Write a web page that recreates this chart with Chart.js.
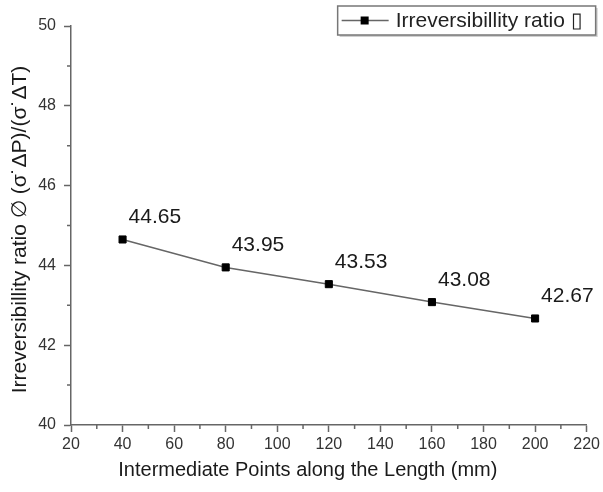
<!DOCTYPE html>
<html>
<head>
<meta charset="utf-8">
<script src="https://cdn.jsdelivr.net/npm/chart.js@4.4.0/dist/chart.umd.min.js"></script>
<style>
    html, body { margin: 0; padding: 0; background: #fff; }
    #wrap { width: 603px; height: 492px; position: relative; }
</style>
</head>
<body>
<div id="wrap"><canvas id="irrChart"></canvas></div>
<script>
// Data
const positions = [40, 80, 120, 160, 200];
const ratios = [44.65, 43.95, 43.53, 43.08, 42.67];
const xTicks = [20, 40, 60, 80, 100, 120, 140, 160, 180, 200, 220];
const yTicks = [40, 42, 44, 46, 48, 50];
const seriesLabel = 'Irreversibillity ratio';
const xTitle = 'Intermediate Points along the Length (mm)';
const yTitle = 'Irreversibillity ratio \u2205 (\u03c3\u02d9\u0394P)/(\u03c3\u02d9\u0394T)';

const FONT = "'Liberation Sans', Arial, sans-serif";
Chart.defaults.font.family = FONT;

// minor ticks halfway between the major ones
function midpoints(arr) {
    const out = [];
    for (let i = 0; i < arr.length - 1; i++) out.push((arr[i] + arr[i + 1]) / 2);
    return out;
}

const extrasPlugin = {
    id: 'extras',
    afterDraw(chart) {
        const ctx = chart.ctx;
        const xs = chart.scales.x;
        const ys = chart.scales.y;
        const area = chart.chartArea;

        ctx.save();
        // minor ticks
        ctx.strokeStyle = '#666';
        ctx.lineWidth = 1.5;
        ctx.beginPath();
        midpoints(xTicks).forEach(v => {
            const px = xs.getPixelForValue(v);
            ctx.moveTo(px, area.bottom);
            ctx.lineTo(px, area.bottom + 4);
        });
        midpoints(yTicks).forEach(v => {
            const py = ys.getPixelForValue(v);
            ctx.moveTo(area.left, py);
            ctx.lineTo(area.left - 4, py);
        });
        ctx.stroke();

        // value labels
        const meta = chart.getDatasetMeta(0);
        ctx.fillStyle = '#1a1a1a';
        ctx.font = '21px ' + FONT;
        ctx.textAlign = 'left';
        ctx.textBaseline = 'alphabetic';
        meta.data.forEach((pt, i) => {
            ctx.fillText(ratios[i].toFixed(2), pt.x + 6, pt.y - 16);
        });

        // x axis title (sits a little left of the plot centre in the original)
        ctx.fillStyle = '#1a1a1a';
        ctx.font = '20px ' + FONT;
        ctx.textAlign = 'center';
        ctx.textBaseline = 'middle';
        ctx.fillText(xTitle, (area.left + area.right) / 2 - 21, 470);

        // y axis title
        ctx.save();
        ctx.translate(20, (area.top + area.bottom) / 2 + 4);
        ctx.rotate(-Math.PI / 2);
        ctx.font = '21px ' + FONT;
        ctx.fillText(yTitle, 0, 0);
        ctx.restore();

        // legend box
        const lx = area.right - 249, ly = area.top - 20, lw = 258, lh = 29;
        ctx.fillStyle = '#cfcfcf';
        ctx.fillRect(lx + 2, ly + 2, lw, lh);
        ctx.fillStyle = '#fff';
        ctx.fillRect(lx, ly, lw, lh);
        ctx.strokeStyle = '#777';
        ctx.lineWidth = 1.5;
        ctx.strokeRect(lx, ly, lw, lh);
        const cy = ly + lh / 2;
        ctx.strokeStyle = '#666';
        ctx.beginPath();
        ctx.moveTo(lx + 4, cy);
        ctx.lineTo(lx + 51, cy);
        ctx.stroke();
        ctx.fillStyle = '#000';
        ctx.fillRect(lx + 23, cy - 4, 8, 8);
        ctx.fillStyle = '#222';
        ctx.font = '21px ' + FONT;
        ctx.textAlign = 'left';
        ctx.textBaseline = 'middle';
        ctx.fillText(seriesLabel + ' \u25af', lx + 58, cy + 1);
        ctx.restore();
    }
};

const irrCtx = document.getElementById('irrChart').getContext('2d');
const irrChart = new Chart(irrCtx, {
    type: 'line',
    data: {
        datasets: [{
            label: seriesLabel,
            data: positions.map((p, i) => ({ x: p, y: ratios[i] })),
            borderColor: '#666',
            borderWidth: 1.5,
            pointStyle: 'rect',
            pointRadius: 5,
            pointBorderWidth: 1,
            pointBackgroundColor: '#000',
            pointBorderColor: '#000',
            tension: 0
        }]
    },
    options: {
        responsive: true,
        maintainAspectRatio: false,
        animation: false,
        layout: {
            padding: { top: 26, right: 16, bottom: 0, left: 0 }
        },
        plugins: {
            legend: { display: false },
            tooltip: { enabled: false }
        },
        scales: {
            x: {
                type: 'linear',
                min: xTicks[0],
                max: xTicks[xTicks.length - 1],
                afterBuildTicks: s => { s.ticks = xTicks.map(v => ({ value: v })); },
                afterFit: s => { s.height = 67; },
                grid: { drawOnChartArea: false, drawTicks: true, tickLength: 7, tickColor: '#666', tickWidth: 1.5 },
                border: { color: '#666', width: 1.5 },
                ticks: { color: '#333', font: { size: 16 }, padding: 3, maxRotation: 0 }
            },
            y: {
                min: yTicks[0],
                max: yTicks[yTicks.length - 1],
                afterBuildTicks: s => { s.ticks = yTicks.map(v => ({ value: v })); },
                afterFit: s => { s.width = 71; },
                grid: { drawOnChartArea: false, drawTicks: true, tickLength: 7, tickColor: '#666', tickWidth: 1.5 },
                border: { color: '#666', width: 1.5 },
                ticks: { color: '#333', font: { size: 16 }, padding: 8 }
            }
        }
    },
    plugins: [extrasPlugin]
});
</script>
</body>
</html>
